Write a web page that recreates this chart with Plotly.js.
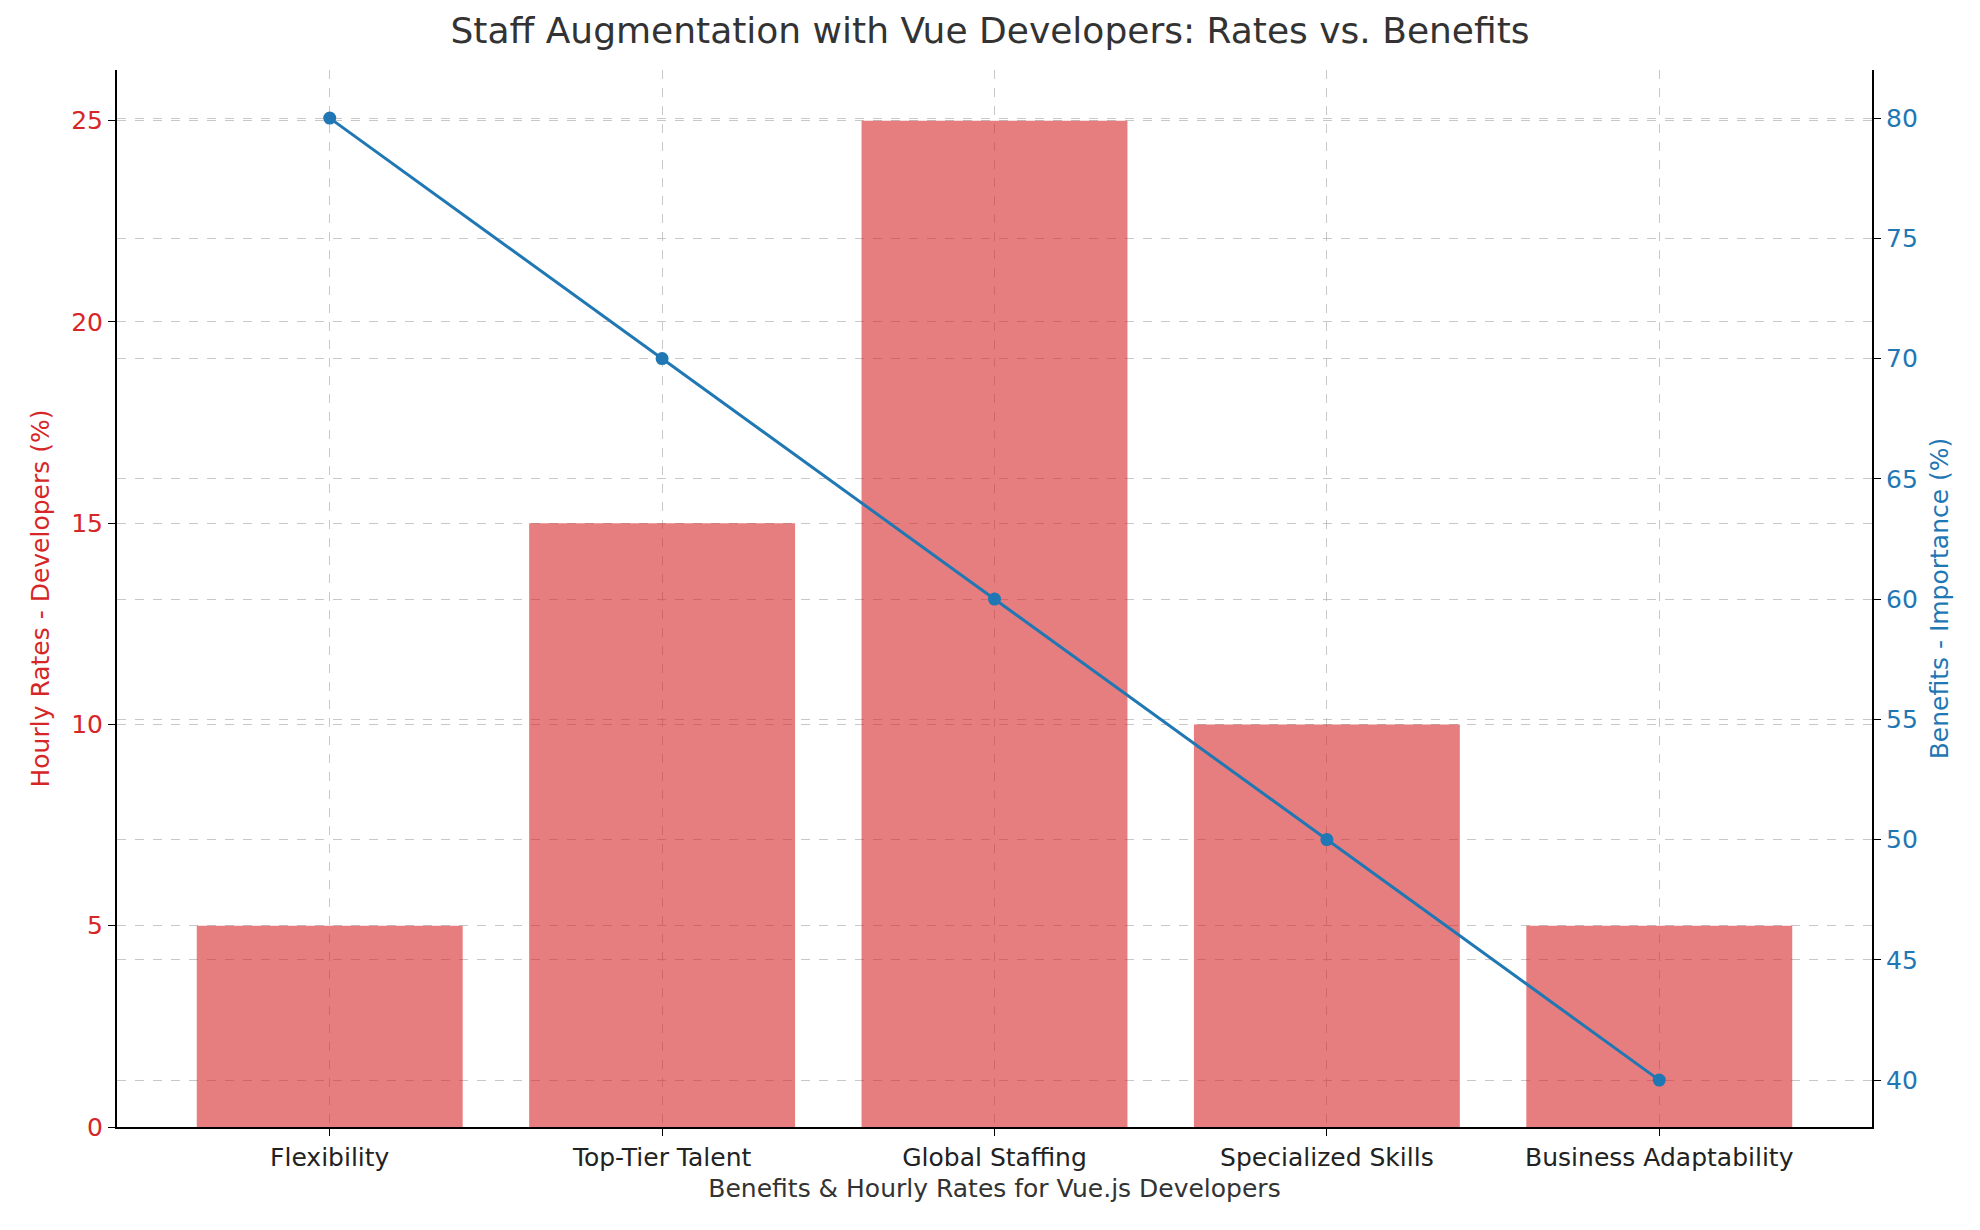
<!DOCTYPE html>
<html><head><meta charset="utf-8">
<script src="https://cdn.plot.ly/plotly-3.0.1.min.js"></script>
<style>html,body{margin:0;background:#fff}#chart{width:1980px;height:1230px}</style>
</head><body><div id="chart"></div>
<script>
// values
const categories = ['Flexibility', 'Top-Tier Talent', 'Global Staffing', 'Specialized Skills', 'Business Adaptability'];
const hourlyRates = [5, 15, 25, 10, 5];
const importance = [80, 70, 60, 50, 40];

const grid = { showgrid: true, gridcolor: 'rgba(176,176,176,0.7)', griddash: 'dash', gridwidth: 1 };

const traces = [{
  type: 'bar', x: [0, 1, 2, 3, 4], y: hourlyRates, width: 0.8,
  marker: { color: 'rgba(214,39,40,0.6)' }, name: 'Hourly Rates',
}, {
  type: 'scatter', mode: 'lines+markers', x: [0, 1, 2, 3, 4], y: importance, yaxis: 'y2',
  line: { color: '#1f77b4', width: 3 }, marker: { color: '#1f77b4', size: 13 }, name: 'Benefits',
}];

const layout = {
  width: 1980, height: 1230, showlegend: false,
  margin: { l: 117, r: 108, t: 70, b: 103 },
  plot_bgcolor: '#fff', paper_bgcolor: '#fff',
  font: { family: 'DejaVu Sans, sans-serif', size: 25, color: '#333' },
  title: { text: 'Staff Augmentation with Vue Developers: Rates vs. Benefits', font: { size: 36, color: '#333' }, x: 0.5, y: 0.975, yanchor: 'middle' },
  xaxis: {
    ...grid, range: [-0.64, 4.64], tickvals: [0, 1, 2, 3, 4], ticktext: categories,
    ticks: 'outside', ticklen: 7, tickcolor: '#000', showline: true, linecolor: '#000', linewidth: 2,
    zeroline: false, title: { text: 'Benefits & Hourly Rates for Vue.js Developers', standoff: 8, font: { size: 25 } },
    tickfont: { size: 25, color: '#222' },
  },
  yaxis: {
    ...grid, range: [0, 26.26], tickvals: [0, 5, 10, 15, 20, 25], zeroline: false,
    ticks: 'outside', ticklen: 7, tickcolor: '#000', showline: true, linecolor: '#000', linewidth: 2,
    tickfont: { size: 25, color: '#d62728' },
    title: { text: 'Hourly Rates - Developers (%)', font: { size: 25, color: '#d62728' }, standoff: 14 },
  },
  yaxis2: {
    ...grid, overlaying: 'y', side: 'right', range: [38.05, 82.0], tickvals: [40, 45, 50, 55, 60, 65, 70, 75, 80],
    zeroline: false, ticks: 'outside', ticklen: 7, tickcolor: '#000', showline: true, linecolor: '#000', linewidth: 2,
    tickfont: { size: 25, color: '#1f77b4' },
    title: { text: 'Benefits - Importance (%)', font: { size: 25, color: '#1f77b4' }, standoff: 14 },
  },
};

Plotly.newPlot('chart', traces, layout, { displayModeBar: false, staticPlot: true });
</script></body></html>
